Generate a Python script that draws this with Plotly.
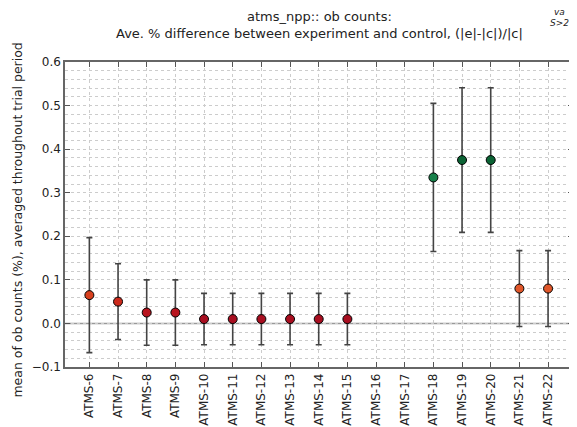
import plotly.graph_objects as go

channels = ["ATMS-6", "ATMS-7", "ATMS-8", "ATMS-9", "ATMS-10", "ATMS-11", "ATMS-12",
            "ATMS-13", "ATMS-14", "ATMS-15", "ATMS-16", "ATMS-17", "ATMS-18",
            "ATMS-19", "ATMS-20", "ATMS-21", "ATMS-22"]
means = [0.065, 0.050, 0.025, 0.025, 0.010, 0.010, 0.010, 0.010, 0.010, 0.010,
         None, None, 0.335, 0.375, 0.375, 0.080, 0.080]
errors = [0.132, 0.087, 0.075, 0.075, 0.059, 0.059, 0.059, 0.059, 0.059, 0.059,
          None, None, 0.170, 0.166, 0.166, 0.087, 0.087]
marker_colors = ["#d8401e", "#cc2a1c", "#b8141e", "#b8141e", "#a80e20", "#a80e20",
                 "#a80e20", "#a80e20", "#a80e20", "#a80e20", "#888888", "#888888",
                 "#17804a", "#0b6334", "#0b6334", "#e0572a", "#e0572a"]
y_ticks = [-0.1, 0.0, 0.1, 0.2, 0.3, 0.4, 0.5, 0.6]

x_idx = list(range(len(channels)))

fig = go.Figure()
fig.add_trace(go.Scatter(
    x=x_idx, y=means, mode="markers",
    error_y=dict(type="data", array=errors, visible=True, color="#444444",
                 thickness=1.6, width=3),
    marker=dict(size=9, color=marker_colors, line=dict(color="black", width=1)),
    showlegend=False,
))

font_family = "DejaVu Sans"
# the page adds an 8px body margin, so the figure is sized/offset to compensate
fig.update_layout(
    width=569, height=419,
    margin=dict(l=57, r=4, t=54, b=60, autoexpand=False),
    paper_bgcolor="white", plot_bgcolor="white",
    font=dict(family=font_family, size=12, color="#222222"),
    showlegend=False,
    shapes=[dict(type="line", xref="paper", x0=0, x1=1, yref="y", y0=0, y1=0,
                 line=dict(color="#999999", width=1.5), layer="below")],
    annotations=[
        dict(text="atms_npp:: ob counts:<br>Ave. % difference between experiment and control, (|e|-|c|)/|c|",
             xref="paper", yref="paper", x=0.5, y=1.0, yshift=19, showarrow=False,
             xanchor="center", yanchor="bottom", font=dict(size=13, color="#222222")),
        dict(text="<i>va</i>", xref="paper", yref="paper", x=0.958, y=1.0, yshift=43,
             xanchor="left", yanchor="bottom", showarrow=False, font=dict(size=9, color="#222222")),
        dict(text="<i>S>2</i>", xref="paper", yref="paper", x=0.95, y=1.0, yshift=32,
             xanchor="left", yanchor="bottom", showarrow=False, font=dict(size=9, color="#222222")),
        dict(text="mean of ob counts (%), averaged throughout trial period",
             xref="paper", yref="paper", x=0, xshift=-47, y=0.48, textangle=-90,
             showarrow=False, xanchor="center", yanchor="middle",
             font=dict(size=12.5, color="#222222")),
    ],
)
fig.update_xaxes(
    automargin=False,
    range=[-0.85, 16.87], tickmode="array", tickvals=x_idx, ticktext=channels,
    tickangle=-90, ticks="inside", ticklen=5, tickcolor="#555555", mirror="allticks",
    showline=True, linecolor="#666666", linewidth=1.5,
    showgrid=True, gridcolor="#cccccc", griddash="dot", gridwidth=1,
    zeroline=False, tickfont=dict(size=12),
)
fig.update_yaxes(
    automargin=False,
    range=[-0.1, 0.6], tickmode="array", tickvals=y_ticks,
    ticktext=["\u22120.1", "0.0", "0.1", "0.2", "0.3", "0.4", "0.5", "0.6"],
    ticks="inside", ticklen=5, tickcolor="#555555", mirror="allticks",
    showline=True, linecolor="#666666", linewidth=1.5,
    showgrid=True, gridcolor="#cccccc", griddash="dot", gridwidth=1,
    minor=dict(dtick=0.02, tick0=0, showgrid=True, gridcolor="#cccccc", griddash="dot", ticks=""),
    zeroline=False, tickfont=dict(size=12),
)

fig.write_html("out.html")
